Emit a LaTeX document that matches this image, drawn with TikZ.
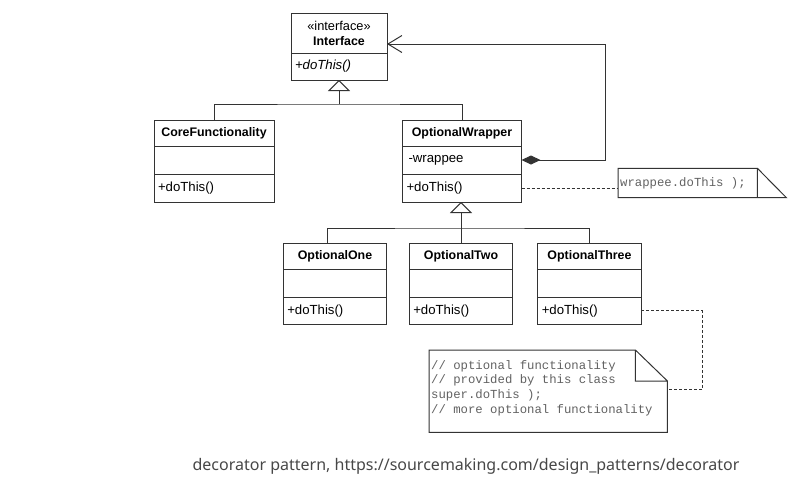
\documentclass[tikz,border=0pt]{standalone}
\usepackage{fontspec}
\setmainfont{Liberation Sans}
\setmonofont{Liberation Mono}
\newfontfamily\capfont{Noto Sans}
\usetikzlibrary{arrows.meta,positioning}

\tikzset{
  umlbox/.style={draw=black!80, line width=1pt, inner xsep=4pt, inner ysep=0pt, outer sep=0pt},
  classname/.style={umlbox, minimum height=26pt, align=center, font=\fontsize{12.4}{15}\selectfont\bfseries},
  compart/.style={umlbox, minimum height=28pt, align=left, font=\fontsize{13.2}{15}\selectfont},
  umlline/.style={draw=black!80, line width=1pt},
  inherit/.style={umlline, -{Triangle[open,width=22pt,length=11pt]}},
  compose/.style={umlline, {Diamond[length=19pt,width=9pt]}-{Straight Barb[length=14pt,width=17pt]}},
  noteline/.style={draw=black!80, line width=0.8pt, dash pattern=on 3pt off 2pt},
  notebox/.style={draw=black!80, line width=1pt},
  notetext/.style={font=\ttfamily\fontsize{12.3}{14.7}\selectfont, execute at begin node={\spaceskip=7.38pt\relax},
    text=black!62, align=left, inner sep=2pt}
}

\begin{document}
\begin{tikzpicture}[x=1pt,y=-1pt]
  \useasboundingbox (0,0) rectangle (804,483);
  % interface
  \node[classname, text width=88pt, minimum height=40pt] (ifacehead) at (339,33) {{\mdseries\fontsize{12.8}{15}\selectfont «interface»}\\Interface};
  \node[compart, text width=88pt, minimum height=27pt, below=0pt of ifacehead] (ifaceops) {\itshape +doThis()};
  % first level
  \node[classname, text width=112pt] (corehead) at (214,133) {CoreFunctionality};
  \node[compart, text width=112pt, below=0pt of corehead] (coreattr) {};
  \node[compart, text width=112pt, below=0pt of coreattr] (coreops) {+doThis()};
  \node[classname, text width=111pt] (wraphead) at (462,133) {OptionalWrapper};
  \node[compart, text width=111pt, below=0pt of wraphead] (wrapattr) {\hspace{2pt}-wrappee};
  \node[compart, text width=111pt, below=0pt of wrapattr] (wrapops) {+doThis()};
  % second level
  \node[classname, text width=95.5pt] (onehead) at (335,256) {OptionalOne};
  \node[compart, text width=95.5pt, below=0pt of onehead] (oneattr) {};
  \node[compart, text width=95.5pt, minimum height=27.5pt, below=0pt of oneattr] (oneops) {+doThis()};
  \node[classname, text width=95.5pt] (twohead) at (461,256) {OptionalTwo};
  \node[compart, text width=95.5pt, below=0pt of twohead] (twoattr) {};
  \node[compart, text width=95.5pt, minimum height=27.5pt, below=0pt of twoattr] (twoops) {+doThis()};
  \node[classname, text width=95.5pt] (threehead) at (589.5,256) {OptionalThree};
  \node[compart, text width=95.5pt, below=0pt of threehead] (threeattr) {};
  \node[compart, text width=95.5pt, minimum height=27.5pt, below=0pt of threeattr] (threeops) {+doThis()};
  % notes
  \node[notetext, anchor=west, text width=135pt, minimum height=29pt] (wrapnote) at (618,183) {wrappee.doThis );};
  \draw[notebox] (wrapnote.north west) -- (wrapnote.north east) -- ([xshift=29pt]wrapnote.south east) -- (wrapnote.south west) -- cycle
    (wrapnote.north east) -- (wrapnote.south east);
  \node[minimum width=238pt, minimum height=82pt, inner sep=0pt, anchor=north west] (extranote) at (429,350) {};
  \node[notetext, anchor=north west, text width=232pt] (extratext) at ([yshift=-8pt]extranote.north west)
    {// optional functionality\\// provided by this class\\super.doThis );\\// more optional functionality};
  \draw[notebox] (extranote.north west) -- ([xshift=-32pt]extranote.north east) -- ([yshift=-31pt]extranote.north east)
    -- (extranote.south east) -- (extranote.south west) -- cycle
    ([xshift=-32pt]extranote.north east) |- ([yshift=-31pt]extranote.north east);
  % connectors
  \coordinate (topbus) at (339,104);
  \draw[inherit] (topbus) -- (ifaceops.south);
  \draw[umlline] (corehead.north) |- (topbus) -| (wraphead.north);
  \coordinate (lowbus) at (461,228);
  \draw[inherit] (lowbus) -- (lowbus |- wrapops.south);
  \draw[umlline] ([xshift=-8pt]onehead.north) |- (lowbus) -| (threehead.north);
  \draw[umlline] (twohead.north) -- (twohead.north |- lowbus);
  \draw[compose] (wrapattr.east) -- ++(84,0) |- ([yshift=-11pt]ifacehead.east);
  \draw[noteline] (wrapops.east) -- (wrapops.east -| wrapnote.west);
  \draw[noteline] (threeops.east) -- ++(61,0) |- ([yshift=2pt]extranote.east);
  % caption
  \node[font=\capfont\fontsize{16}{19}\selectfont, text=black!72] (caption) at (466,466)
    {decorator pattern, https://sourcemaking.com/design\_patterns/decorator};
\end{tikzpicture}
\end{document}
